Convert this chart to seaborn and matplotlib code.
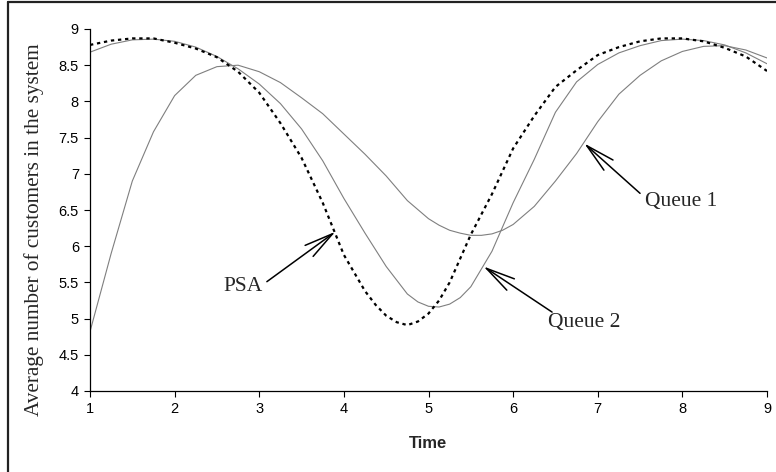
import matplotlib
matplotlib.use("Agg")
import pandas as pd
import seaborn as sns
import matplotlib.pyplot as plt
from matplotlib.lines import Line2D

# values
psa_time = [1.0, 1.25, 1.5, 1.75, 2.0, 2.25, 2.5, 2.75, 3.0, 3.25, 3.5, 3.75,
            4.0, 4.25, 4.375, 4.5, 4.625, 4.75, 4.875, 5.0, 5.125, 5.25, 5.5, 5.75,
            6.0, 6.25, 6.5, 6.75, 7.0, 7.25, 7.5, 7.75, 8.0, 8.25, 8.5, 8.75, 9.0]
psa = [8.78, 8.84, 8.87, 8.87, 8.81, 8.73, 8.61, 8.41, 8.12, 7.70, 7.22, 6.60,
       5.88, 5.38, 5.19, 5.04, 4.95, 4.91, 4.96, 5.07, 5.25, 5.50, 6.16, 6.72,
       7.35, 7.80, 8.20, 8.43, 8.64, 8.75, 8.83, 8.87, 8.87, 8.83, 8.74, 8.62, 8.42]

q2_time = [1.0, 1.25, 1.5, 1.75, 2.0, 2.25, 2.5, 2.75, 3.0, 3.25, 3.5, 3.75,
           4.0, 4.25, 4.5, 4.75, 4.875, 5.0, 5.125, 5.25, 5.375, 5.5, 5.75,
           6.0, 6.25, 6.5, 6.75, 7.0, 7.25, 7.5, 7.75, 8.0, 8.25, 8.5, 8.75, 9.0]
queue2 = [8.68, 8.79, 8.85, 8.86, 8.83, 8.75, 8.62, 8.45, 8.24, 7.97, 7.62, 7.18,
          6.66, 6.18, 5.72, 5.34, 5.23, 5.17, 5.16, 5.20, 5.29, 5.44, 5.93,
          6.60, 7.20, 7.85, 8.27, 8.51, 8.67, 8.77, 8.84, 8.86, 8.84, 8.78, 8.67, 8.52]

q1_time = [1.0, 1.25, 1.5, 1.75, 2.0, 2.25, 2.5, 2.75, 3.0, 3.25, 3.5, 3.75,
           4.0, 4.25, 4.5, 4.75, 5.0, 5.125, 5.25, 5.375, 5.5, 5.625, 5.75, 5.875,
           6.0, 6.25, 6.5, 6.75, 7.0, 7.25, 7.5, 7.75, 8.0, 8.25, 8.5, 8.75, 9.0]
queue1 = [4.82, 5.90, 6.90, 7.58, 8.08, 8.36, 8.48, 8.50, 8.41, 8.26, 8.05, 7.83,
          7.55, 7.27, 6.97, 6.63, 6.38, 6.29, 6.22, 6.18, 6.15, 6.15, 6.17, 6.22,
          6.30, 6.55, 6.90, 7.28, 7.72, 8.10, 8.36, 8.56, 8.69, 8.76, 8.77, 8.71, 8.60]

x_ticks = [1, 2, 3, 4, 5, 6, 7, 8, 9]
y_ticks = [4, 4.5, 5, 5.5, 6, 6.5, 7, 7.5, 8, 8.5, 9]

# label text, arrow tip, arrow start
notes = [
    ("PSA", (2.81, 5.44), (3.90, 6.20), (3.09, 5.51)),
    ("Queue 2", (6.84, 4.95), (5.65, 5.72), (6.46, 5.09)),
    ("Queue 1", (7.99, 6.62), (6.84, 7.42), (7.50, 6.73)),
]

df_psa = pd.DataFrame({"Time": psa_time, "value": psa})
df_q1 = pd.DataFrame({"Time": q1_time, "value": queue1})
df_q2 = pd.DataFrame({"Time": q2_time, "value": queue2})

sns.set_style("ticks")
plt.rcParams["font.family"] = ["Liberation Sans", "DejaVu Sans"]
serif = ["Liberation Serif", "DejaVu Serif"]

fig = plt.figure(figsize=(7.76, 4.72), dpi=100)
ax = fig.add_axes([90 / 776, 1 - 391 / 472, 677 / 776, 362 / 472])

sns.lineplot(data=df_q1, x="Time", y="value", ax=ax, color="#7f7f7f", linewidth=0.8)
sns.lineplot(data=df_q2, x="Time", y="value", ax=ax, color="#7f7f7f", linewidth=0.8)
sns.lineplot(data=df_psa, x="Time", y="value", ax=ax, color="black", linewidth=1.6,
             linestyle=(0, (1.5, 1.7)))

ax.set_xlim(1, 9)
ax.set_ylim(4, 9)
ax.set_xticks(x_ticks)
ax.set_yticks(y_ticks)
ax.set_xticklabels([str(t) for t in x_ticks])
ax.set_yticklabels([f"{t:g}" for t in y_ticks])
ax.tick_params(axis="both", direction="out", length=4, width=0.8, color="black",
               labelsize=10.5, labelcolor="black", pad=4)
sns.despine(ax=ax)
for side in ("left", "bottom"):
    ax.spines[side].set_color("black")
    ax.spines[side].set_linewidth(0.9)

ax.set_xlabel("Time", fontsize=12, fontweight="bold")
ax.xaxis.set_label_coords(0.499, -0.124)
ax.set_ylabel("Average number of customers in the system", fontsize=15.3, family=serif)
ax.yaxis.set_label_coords(-0.068, 0.445)

for label, txt_pos, tip, start in notes:
    ax.text(txt_pos[0], txt_pos[1], label, ha="center", va="center", fontsize=15.5,
            family=serif)
    ax.annotate("", xy=tip, xytext=start,
                arrowprops=dict(arrowstyle="->, head_length=1.5, head_width=0.35",
                                color="black", lw=1.1, mutation_scale=14,
                                shrinkA=0, shrinkB=0))

# outer frame of the picture (left and top edges visible)
fig.add_artist(Line2D([7.5 / 776, 7.5 / 776], [0, 1 - 1.5 / 472], color="#222222",
                      linewidth=1.6, transform=fig.transFigure))
fig.add_artist(Line2D([7.5 / 776, 1], [1 - 1.5 / 472, 1 - 1.5 / 472], color="#222222",
                      linewidth=1.6, transform=fig.transFigure))

fig.savefig("out.png", dpi=100)
